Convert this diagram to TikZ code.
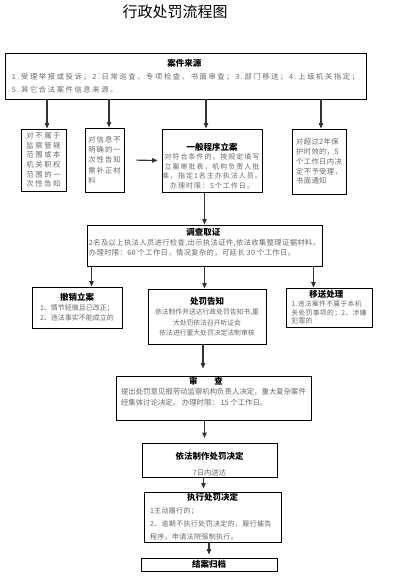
\documentclass[tikz,border=0pt]{standalone}
\usepackage{fontspec}
\setmainfont{Noto Sans CJK SC}
\newfontfamily\cjkwide[LetterSpace=22]{Noto Sans CJK SC}
\newfontfamily\cjkmid[LetterSpace=14]{Noto Sans CJK SC}
\newfontfamily\cjknarrow[LetterSpace=5]{Noto Sans CJK SC}
\usetikzlibrary{arrows.meta}
\newcommand\hd[1]{{\normalfont\bfseries\fontsize{8.5}{10}\selectfont\color{black}#1}}
\tikzset{
    box/.style={draw, line width=0.9pt, inner sep=1pt, text=black!60},
    flow/.style={-{Triangle[length=5.5pt,width=4.5pt]}, line width=1.1pt, draw=black!80},
}

\begin{document}
\begin{tikzpicture}[x=1pt, y=-1pt]
        \useasboundingbox (0,0) rectangle (406,578);
        \node[font=\fontsize{15}{18}\selectfont] (title) at (175,12) {行政处罚流程图};
        \node[box, minimum width=361pt, minimum height=46pt, align=left, font=\cjkwide\fontsize{7.3}{13}\selectfont] (src) at (185.5,76) {\makebox[345pt]{\hd{案件来源}}\\1.受理举报或投诉；2.日常巡查、专项检查、书面审查；3.部门移送；4.上级机关指定；\\5.其它合法案件信息来源。};
        \node[box, minimum width=45pt, minimum height=62pt, align=center, font=\cjkwide\fontsize{7.3}{9.6}\selectfont] (n1) at (43.5,160) {对不属于\\监察管辖\\范围或本\\机关职权\\范围的一\\次性告知};
        \node[box, minimum width=39pt, minimum height=64pt, align=left, font=\cjkmid\fontsize{7.3}{10.4}\selectfont] (n2) at (104.5,160) {对信息不\\明确的一\\次性告知\\需补正材\\料};
        \node[box, minimum width=100pt, minimum height=63pt, inner xsep=0pt, align=center, font=\cjkmid\fontsize{7}{9.6}\selectfont] (file) at (212,160.5) {\strut\\\hd{一般程序立案}\\对符合条件的，按规定填写\\立案审批表，机构负责人批\\准，指定1名主办执法人员。\\办理时限：5个工作日。};
        \node[box, minimum width=54pt, minimum height=65pt, align=left, font=\cjknarrow\fontsize{7.3}{9.8}\selectfont] (n4) at (319,161.5) {对超过2年保\\护时效的，5\\个工作日内决\\定不予受理，\\书面通知};
        \node[box, minimum width=235pt, minimum height=41pt, align=left, font=\cjknarrow\fontsize{7.3}{10}\selectfont] (inv) at (204.5,245.5) {\makebox[229pt]{\hd{调查取证}}\\2名及以上执法人员进行检查,出示执法证件,依法收集整理证据材料。\\办理时限：60 个工作日，情况复杂的，可延长 30 个工作日。\\[-5pt]\strut};
        \node[box, minimum width=90pt, minimum height=41pt, align=center, font=\fontsize{7}{10}\selectfont] (rev) at (77,307.5) {\hd{撤销立案}\\1、情节轻微且已改正；\\2、违法事实不能成立的};
        \node[box, minimum width=118pt, minimum height=55pt, align=center, font=\fontsize{6.8}{10.5}\selectfont] (notice) at (207,316.5) {\hd{处罚告知}\\依法制作并送达行政处罚告知书,重\\大处罚依法召开听证会\\依法进行重大处罚决定法制审核};
        \node[box, minimum width=86pt, minimum height=39pt, align=left, font=\cjknarrow\fontsize{6.8}{8.7}\selectfont] (trans) at (329,307.5) {\makebox[70pt]{\hd{移送处理}}\\1.违法案件不属于本机\\关处罚事项的；2、涉嫌\\犯罪的};
        \node[box, minimum width=195pt, minimum height=40pt, align=left, font=\fontsize{7.4}{10.5}\selectfont] (chk) at (213.5,398) {\makebox[170pt]{\hd{审\hspace{17pt}查}}\\提出处罚意见报劳动监察机构负责人决定，重大复杂案件\\经集体讨论决定。 办理时限： 15 个工作日。\\\strut};
        \node[box, minimum width=135pt, minimum height=33pt, align=center, font=\fontsize{7.3}{9}\selectfont] (dec) at (209.5,460.5) {\strut\\[-2pt]\hd{依法制作处罚决定}\\[7pt]7日内送达};
        \node[box, minimum width=137pt, minimum height=50pt, align=left, font=\cjknarrow\fontsize{7}{13}\selectfont] (exe) at (212.5,517) {\makebox[125pt]{\hd{执行处罚决定}}\\1主动履行的；\\2、逾期不执行处罚决定的，履行催告\\程序，申请法院强制执行。};
        \node[box, minimum width=136pt, minimum height=13pt, inner sep=0pt] (arc) at (209,564.5) {\hd{结案归档}};
        \draw[flow] ([xshift=3.5pt]n1.north |- src.south) -- ([xshift=3.5pt]n1.north);
        \draw[flow] ([xshift=4.5pt]n2.north |- src.south) -- ([xshift=4.5pt]n2.north);
        \draw[flow] ([xshift=-6pt]file.north |- src.south) -- ([xshift=-6pt]file.north);
        \draw[flow] ([xshift=2pt]n4.north |- src.south) -- ([xshift=2pt]n4.north);
        \draw[flow, shorten <=12pt, shorten >=4pt] (n2.east) -- (file.west);
        \draw[flow] (inv.north |- file.south) -- (inv.north);
        \draw[flow] ([xshift=5pt]inv.south west) -- ([xshift=5pt]inv.south west |- rev.north);
        \draw[flow] (inv.south) -- (inv.south |- notice.north);
        \draw[flow] ([xshift=-9pt]inv.south east) -- ([xshift=-9pt]inv.south east |- trans.north);
        \draw[flow, shorten >=7pt] ([xshift=-4pt]notice.south) -- ([xshift=-4pt]notice.south |- chk.north);
        \draw[flow, shorten >=5pt] ([xshift=-5pt]dec.north |- chk.south) -- ([xshift=-5pt]dec.north);
        \draw[flow, shorten >=3pt] ([xshift=-6pt]dec.south) -- ([xshift=-6pt]dec.south |- exe.north);
        \draw[flow, shorten >=3pt] (arc.north |- exe.south) -- (arc.north);
    \end{tikzpicture}
\end{document}
